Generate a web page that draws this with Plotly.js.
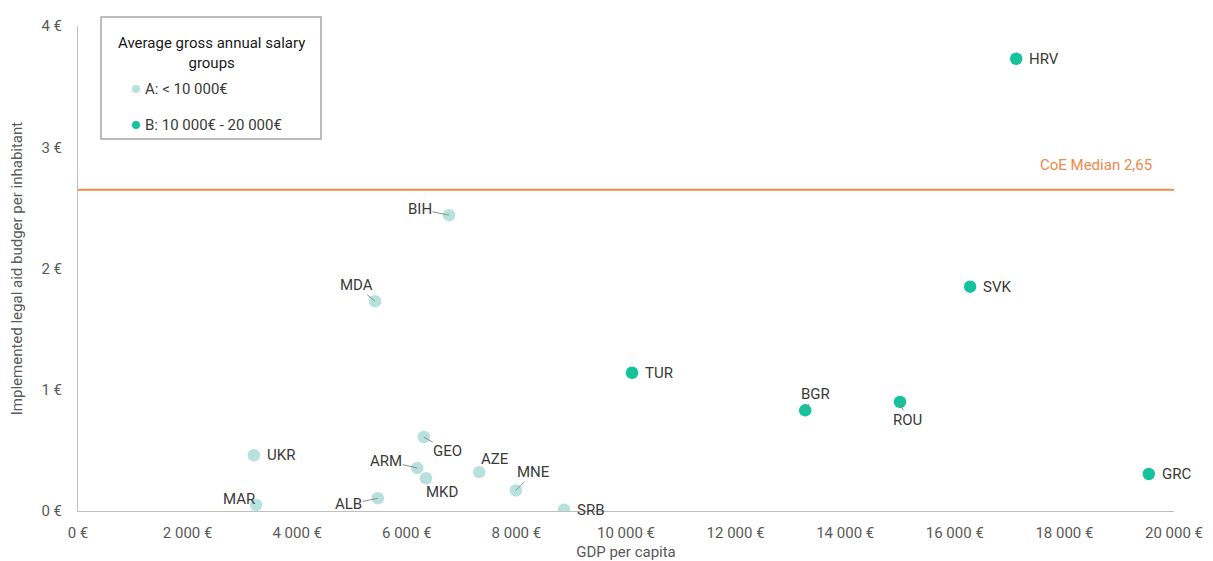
<!DOCTYPE html>
<html>
<head>
<meta charset="utf-8">
<script src="https://cdn.plot.ly/plotly-3.0.1.min.js"></script>
<style>html,body{margin:0;padding:0;background:#fff;}</style>
</head>
<body>
<div id="chart" style="width:1213px;height:561px;"></div>
<script>
// Group A: average gross annual salary < 10 000€
const groupA_countries = ["BIH","MDA","UKR","MAR","GEO","ARM","MKD","AZE","MNE","ALB","SRB"];
const groupA_gdp       = [6770, 5420, 3210, 3250, 6310, 6190, 6350, 7320, 7990, 5470, 8870];
const groupA_budget    = [2.44, 1.73, 0.46, 0.05, 0.61, 0.355, 0.27, 0.32, 0.17, 0.105, 0.01];

// Group B: average gross annual salary 10 000€ - 20 000€
const groupB_countries = ["HRV","SVK","TUR","BGR","ROU","GRC"];
const groupB_gdp       = [17120, 16280, 10110, 13270, 15000, 19540];
const groupB_budget    = [3.73, 1.85, 1.14, 0.83, 0.90, 0.305];

const coeMedian = 2.65;
const medianLabel = "CoE Median 2,65";

const xTickVals = [0,2000,4000,6000,8000,10000,12000,14000,16000,18000,20000];
const xTickText = ["0 €","2 000 €","4 000 €","6 000 €","8 000 €","10 000 €","12 000 €","14 000 €","16 000 €","18 000 €","20 000 €"];
const yTickVals = [0,1,2,3,4];
const yTickText = ["0 €","1 €","2 €","3 €","4 €"];

const legendTitle = "Average gross annual salary<br>groups";
const nameA = "A: < 10 000€";
const nameB = "B: 10 000€ - 20 000€";

const colA = "#b7e1dc";
const colB = "#14c29b";
const labelColor = "#3a3a3a";
const tickColor = "#595959";
const font = "Roboto, 'Liberation Sans', sans-serif";
const fs = 15;

// plot area in pixels (for converting legend box position to paper coords)
const M = {l:78, r:39, t:26, b:50}, W = 1213, H = 561;
const pw = W - M.l - M.r, ph = H - M.t - M.b;
const px = v => (v - M.l) / pw;
const py = v => (H - M.b - v) / ph;

// label placement (pixel offsets of label relative to point)
const labelStyle = {
  HRV:{mode:"right"}, SVK:{mode:"right"}, TUR:{mode:"right"}, GRC:{mode:"right"},
  UKR:{mode:"right"}, SRB:{mode:"right"},
  MAR:{mode:"free", dx:-17, dy:-6}, AZE:{mode:"free", dx:16, dy:-13}, MKD:{mode:"free", dx:16, dy:14},
  BIH:{mode:"arrow", ax:-29, ay:-6}, MDA:{mode:"arrow", ax:-19, ay:-16},
  GEO:{mode:"arrow", ax:24, ay:14}, ARM:{mode:"arrow", ax:-31, ay:-7},
  MNE:{mode:"arrow", ax:18, ay:-18}, ALB:{mode:"arrow", ax:-29, ay:6},
  BGR:{mode:"arrow", ax:10, ay:-16}, ROU:{mode:"arrow", ax:7, ay:18}
};

function makeAnn(name, x, y) {
  const s = labelStyle[name];
  const base = {x:x, y:y, xref:"x", yref:"y", text:name, font:{family:font, size:fs, color:labelColor}};
  if (s.mode === "right") {
    return Object.assign(base, {showarrow:false, xanchor:"left", yanchor:"middle", xshift:11});
  } else if (s.mode === "free") {
    return Object.assign(base, {showarrow:false, xanchor:"center", yanchor:"middle", xshift:s.dx, yshift:-s.dy});
  } else {
    return Object.assign(base, {showarrow:true, arrowhead:0, arrowwidth:1, arrowcolor:"#8c8c8c",
      ax:s.ax, ay:s.ay, standoff:0, borderpad:0});
  }
}

const annotations = [];
groupA_countries.forEach((c,i)=>annotations.push(makeAnn(c, groupA_gdp[i], groupA_budget[i])));
groupB_countries.forEach((c,i)=>annotations.push(makeAnn(c, groupB_gdp[i], groupB_budget[i])));
annotations.push({x:1, xref:"paper", y:coeMedian, yref:"y", text:medianLabel, showarrow:false,
  xanchor:"right", yanchor:"bottom", xshift:-20, yshift:14, font:{family:font, size:fs, color:"#ed8a4c"}});

// custom legend box
annotations.push({x:px(211), y:py(53), xref:"paper", yref:"paper", text:legendTitle, showarrow:false,
  xanchor:"center", yanchor:"middle", align:"center", font:{family:font, size:fs, color:"#1a1a1a"}});
annotations.push({x:px(143), y:py(89), xref:"paper", yref:"paper", text:nameA, showarrow:false,
  xanchor:"left", yanchor:"middle", font:{family:font, size:fs, color:labelColor}});
annotations.push({x:px(143), y:py(125), xref:"paper", yref:"paper", text:nameB, showarrow:false,
  xanchor:"left", yanchor:"middle", font:{family:font, size:fs, color:labelColor}});

const shapes = [
  {type:"rect", xref:"paper", yref:"paper", x0:px(101), x1:px(321), y0:py(139), y1:py(17),
   line:{color:"#a6a6a6", width:1.5}, fillcolor:"#ffffff", layer:"above"},
  {type:"circle", xref:"paper", yref:"paper", xsizemode:"pixel", ysizemode:"pixel",
   xanchor:px(136), yanchor:py(89), x0:-4, x1:4, y0:-4, y1:4, fillcolor:colA, line:{width:0}, layer:"above"},
  {type:"circle", xref:"paper", yref:"paper", xsizemode:"pixel", ysizemode:"pixel",
   xanchor:px(136), yanchor:py(125), x0:-4, x1:4, y0:-4, y1:4, fillcolor:colB, line:{width:0}, layer:"above"}
];

const traces = [
  {x:[0,20000], y:[coeMedian, coeMedian], mode:"lines", line:{color:"#ef8a4a", width:2},
   showlegend:false, hoverinfo:"skip", cliponaxis:false},
  {x:groupA_gdp, y:groupA_budget, mode:"markers", name:nameA, showlegend:false,
   marker:{color:colA, size:12.5, line:{width:0}}},
  {x:groupB_gdp, y:groupB_budget, mode:"markers", name:nameB, showlegend:false,
   marker:{color:colB, size:12.5, line:{width:0}}}
];

const layout = {
  width:W, height:H,
  margin:M,
  paper_bgcolor:"#fff", plot_bgcolor:"#fff",
  font:{family:font, size:fs, color:tickColor},
  showlegend:false,
  xaxis:{range:[0,20000], tickvals:xTickVals, ticktext:xTickText, showgrid:false, zeroline:false,
    showline:true, linecolor:"#bfbfbf", linewidth:1, ticks:"", tickfont:{size:fs, color:tickColor},
    ticklabelstandoff:8,
    title:{text:"GDP per capita", font:{size:fs, color:tickColor}, standoff:8}},
  yaxis:{range:[0,4], tickvals:yTickVals, ticktext:yTickText, showgrid:false, zeroline:false,
    showline:true, linecolor:"#bfbfbf", linewidth:1, ticks:"", tickfont:{size:fs, color:tickColor},
    ticklabelstandoff:12,
    title:{text:"Implemented legal aid budger per inhabitant", font:{size:fs, color:tickColor}, standoff:15}},
  annotations:annotations,
  shapes:shapes
};

Plotly.newPlot("chart", traces, layout, {displayModeBar:false, staticPlot:true});
</script>
</body>
</html>
